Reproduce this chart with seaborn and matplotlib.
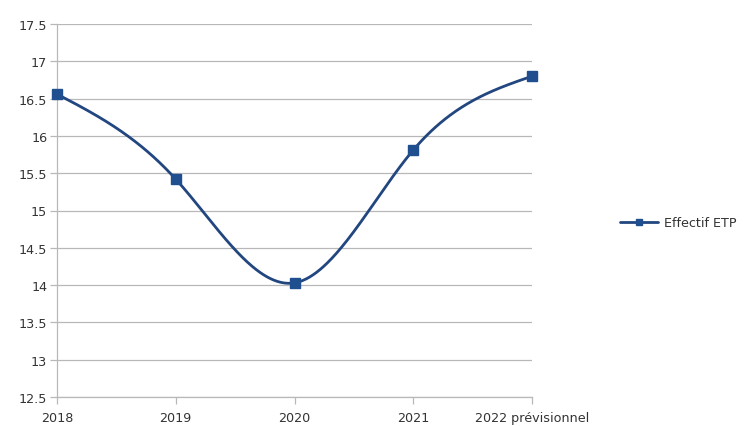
import numpy as np
import pandas as pd
import matplotlib
matplotlib.use("Agg")
import matplotlib.pyplot as plt
import seaborn as sns

# Headcount (full-time equivalent) per year
categories = ["2018", "2019", "2020", "2021", "2022 prévisionnel"]
effectif_etp = [16.56, 15.42, 14.03, 15.81, 16.80]
y_ticks = [12.5, 13, 13.5, 14, 14.5, 15, 15.5, 16, 16.5, 17, 17.5]
series_name = "Effectif ETP"

sns.set_theme(style="white")
plt.rcParams["font.family"] = ["DejaVu Sans"]

line_color = "#22467f"
marker_color = "#1f4f8f"
grid_color = "#b8b8b8"
text_color = "#333333"
font_size = 9.2


def natural_cubic_spline(x, y, xs):
    """Natural cubic spline through (x, y), evaluated at xs."""
    x = np.asarray(x, float)
    y = np.asarray(y, float)
    n = len(x)
    h = np.diff(x)
    A = np.zeros((n, n))
    b = np.zeros(n)
    A[0, 0] = A[-1, -1] = 1.0
    for i in range(1, n - 1):
        A[i, i - 1] = h[i - 1]
        A[i, i] = 2 * (h[i - 1] + h[i])
        A[i, i + 1] = h[i]
        b[i] = 3 * ((y[i + 1] - y[i]) / h[i] - (y[i] - y[i - 1]) / h[i - 1])
    c = np.linalg.solve(A, b)
    out = np.empty_like(xs)
    for k, xv in enumerate(xs):
        i = min(max(np.searchsorted(x, xv) - 1, 0), n - 2)
        dx = xv - x[i]
        bi = (y[i + 1] - y[i]) / h[i] - h[i] * (2 * c[i] + c[i + 1]) / 3
        di = (c[i + 1] - c[i]) / (3 * h[i])
        out[k] = y[i] + bi * dx + c[i] * dx ** 2 + di * dx ** 3
    return out


pos = np.arange(len(categories))
df = pd.DataFrame({"pos": pos, "value": effectif_etp})
xs = np.linspace(pos[0], pos[-1], 400)
curve = pd.DataFrame({"pos": xs, "value": natural_cubic_spline(pos, effectif_etp, xs)})

fig = plt.figure(figsize=(7.51, 4.27), dpi=100)
ax = fig.add_axes([57 / 751, 1 - 398 / 427, (532 - 57) / 751, (398 - 25) / 427])

sns.lineplot(data=curve, x="pos", y="value", ax=ax, color=line_color, linewidth=2.0,
             legend=False, zorder=3)
ax.plot(df["pos"], df["value"], linestyle="none", marker="s", markersize=7,
        color=marker_color, zorder=4, clip_on=False)

ax.set_xlim(pos[0], pos[-1])
ax.set_ylim(12.5, 17.5)
ax.set_yticks(y_ticks)
ax.set_yticklabels([f"{v:g}" for v in y_ticks])
ax.set_xticks(pos)
ax.set_xticklabels(categories)
ax.set_xlabel("")
ax.set_ylabel("")

ax.yaxis.grid(True, color=grid_color, linewidth=0.9)
ax.xaxis.grid(False)
for side in ["top", "right"]:
    ax.spines[side].set_visible(False)
for side in ["left", "bottom"]:
    ax.spines[side].set_color(grid_color)
    ax.spines[side].set_linewidth(0.9)

ax.tick_params(axis="y", which="major", left=True, length=5, width=0.9,
               color=grid_color, labelsize=font_size, labelcolor=text_color, pad=2)
ax.tick_params(axis="x", which="major", bottom=True, length=5, width=0.9,
               color=grid_color, labelsize=font_size, labelcolor=text_color, pad=5)

handle = plt.Line2D([], [], color=line_color, linewidth=2.0, marker="s",
                    markersize=5, markerfacecolor=marker_color,
                    markeredgecolor=marker_color)
fig.legend([handle], [series_name], loc="center left",
           bbox_to_anchor=(608 / 751, 1 - 224 / 427), frameon=False,
           handlelength=3.0, handletextpad=0.45, fontsize=font_size,
           labelcolor=text_color)

fig.savefig("out.png", dpi=100)
